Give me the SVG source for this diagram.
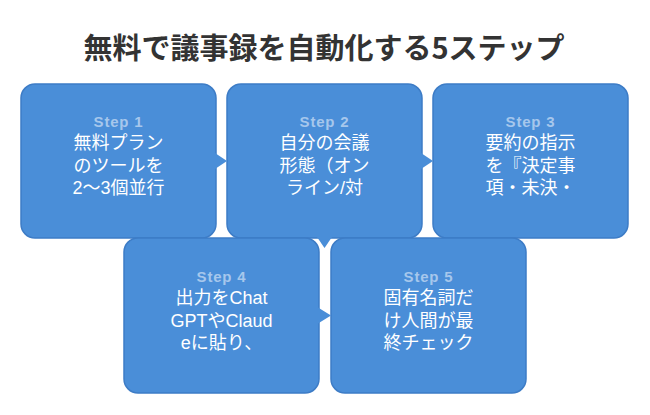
<svg xmlns="http://www.w3.org/2000/svg" width="650" height="415" viewBox="0 0 650 415">
<style>
.box{fill:#4a8ed8;stroke:#3d7cc6;stroke-width:1.5}
.arrow{fill:#4a8ed8;stroke:none}
.step{font-family:"Liberation Sans","Noto Sans CJK JP",sans-serif;font-weight:bold;font-size:15px;letter-spacing:0.8px;fill:#a6c7ec;text-anchor:middle}
.body{font-family:"Liberation Sans","Noto Sans CJK JP",sans-serif;font-size:18px;fill:#ffffff;text-anchor:middle}
.title{font-family:"Noto Sans CJK JP",sans-serif;font-weight:bold;font-size:29px;fill:#333333;text-anchor:middle}
</style>
<rect width="650" height="415" fill="#ffffff"/>
<text class="title" x="324" y="59">無料で議事録を自動化する5ステップ</text>
<g id="node1">
<rect class="box" x="21" y="84" width="195" height="154" rx="14"/>
<text class="step" x="118.5" y="127">Step 1</text>
<text class="body" x="118.5" y="149">無料プラン</text>
<text class="body" x="118.5" y="171.5">のツールを</text>
<text class="body" x="118.5" y="194">2〜3個並行</text>
</g>
<g id="node2">
<rect class="box" x="227" y="84" width="195" height="154" rx="14"/>
<text class="step" x="324.5" y="127">Step 2</text>
<text class="body" x="324.5" y="149">自分の会議</text>
<text class="body" x="324.5" y="171.5">形態（オン</text>
<text class="body" x="324.5" y="194">ライン/対</text>
</g>
<g id="node3">
<rect class="box" x="433" y="84" width="195" height="154" rx="14"/>
<text class="step" x="530.5" y="127">Step 3</text>
<text class="body" x="530.5" y="149">要約の指示</text>
<text class="body" x="530.5" y="171.5">を『決定事</text>
<text class="body" x="530.5" y="194">項・未決・</text>
</g>
<g id="node4">
<rect class="box" x="124" y="238" width="195" height="155" rx="14"/>
<text class="step" x="221.5" y="282">Step 4</text>
<text class="body" x="221.5" y="304">出力をChat</text>
<text class="body" x="221.5" y="326.5">GPTやClaud</text>
<text class="body" x="221.5" y="349">eに貼り、</text>
</g>
<g id="node5">
<rect class="box" x="331" y="238" width="195" height="155" rx="14"/>
<text class="step" x="428.5" y="282">Step 5</text>
<text class="body" x="428.5" y="304">固有名詞だ</text>
<text class="body" x="428.5" y="326.5">け人間が最</text>
<text class="body" x="428.5" y="349">終チェック</text>
</g>
<g id="connectors">
<polygon class="arrow" points="215,153 227,161 215,169"/>
<polygon class="arrow" points="421,153 433,161 421,169"/>
<polygon class="arrow" points="317,237 332,237 324.5,248"/>
<polygon class="arrow" points="318,307.5 331,315.5 318,323.5"/>
</g>
</svg>
